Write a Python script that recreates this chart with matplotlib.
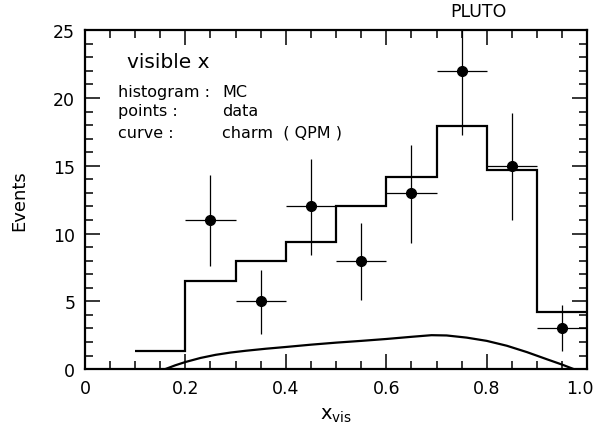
import matplotlib
matplotlib.use("Agg")
import matplotlib.pyplot as plt
import matplotlib.transforms as mtransforms
from matplotlib.ticker import MultipleLocator

# Histogram (MC)
bin_edges = [0.1, 0.2, 0.3, 0.4, 0.5, 0.6, 0.7, 0.8, 0.9, 1.0]
mc_counts = [1.3, 6.5, 8.0, 9.4, 12.0, 14.2, 17.9, 14.7, 4.2]

# Data points
data_x = [0.25, 0.35, 0.45, 0.55, 0.65, 0.75, 0.85, 0.95]
data_y = [11, 5, 12, 8, 13, 22, 15, 3]
err_up = [3.3, 2.3, 3.5, 2.8, 3.5, 4.7, 3.9, 1.7]
err_dn = [3.4, 2.4, 3.6, 2.9, 3.7, 4.7, 4.0, 1.7]
x_half = 0.05

# Charm (QPM) curve
curve_x = [0.16, 0.18, 0.20, 0.23, 0.26, 0.29, 0.32, 0.36, 0.40, 0.45, 0.50, 0.55, 0.60, 0.65,
           0.69, 0.72, 0.76, 0.80, 0.84, 0.88, 0.92, 0.95, 0.973]
curve_y = [0.0, 0.28, 0.52, 0.82, 1.05, 1.22, 1.35, 1.5, 1.63, 1.8, 1.95, 2.08, 2.22, 2.38,
           2.5, 2.48, 2.32, 2.08, 1.72, 1.25, 0.72, 0.33, 0.0]

xticks = [0, 0.2, 0.4, 0.6, 0.8, 1.0]
xticklabels = ["0", "0.2", "0.4", "0.6", "0.8", "1.0"]
yticks = [0, 5, 10, 15, 20, 25]

plt.rcParams['font.family'] = ['DejaVu Sans']

fig = plt.figure(figsize=(5.98, 4.39), dpi=100)
ax = fig.add_axes([0.142, 0.157, 0.840, 0.772])

ax.stairs(mc_counts, bin_edges, color='black', linewidth=1.6, baseline=None)
ax.errorbar(data_x, data_y, yerr=[err_dn, err_up], xerr=x_half, fmt='o', color='black',
            markersize=7, elinewidth=0.9, capsize=0, zorder=3)
ax.plot(curve_x, curve_y, color='black', linewidth=1.6)

ax.set_xlim(0, 1.0)
ax.set_ylim(0, 25)
ax.set_xticks(xticks)
ax.set_xticklabels(xticklabels)
ax.set_yticks(yticks)
ax.xaxis.set_minor_locator(MultipleLocator(0.05))
ax.yaxis.set_minor_locator(MultipleLocator(1))
ax.tick_params(which='both', direction='in', top=True, right=True, width=1.1, labelsize=12.5, pad=7)
ax.tick_params(which='major', length=11)
ax.tick_params(which='minor', length=6)
ax.tick_params(axis='y', which='both', labelright=False)
for s in ax.spines.values():
    s.set_linewidth(1.6)

# shift last x tick label slightly left so it fits in the figure
last = ax.get_xticklabels()[-1]
last.set_transform(last.get_transform() + mtransforms.ScaledTranslation(-5/72, 0, fig.dpi_scale_trans))

ax.set_xlabel(r"x$_{\mathrm{vis}}$", fontsize=14, labelpad=6)
ax.set_ylabel("Events", fontsize=13, labelpad=18)

fig.text(0.80, 0.972, "PLUTO", fontsize=12.5, ha='center', va='center')
fig.text(0.212, 0.858, "visible x", fontsize=14.5, ha='left', va='center')
rows = [("histogram :", "MC"), ("points :", "data"), ("curve :", "charm  ( QPM )")]
ys = [0.790, 0.745, 0.697]
for (a, b), y in zip(rows, ys):
    fig.text(0.197, y, a, fontsize=11.5, ha='left', va='center')
    fig.text(0.372, y, b, fontsize=11.5, ha='left', va='center')

fig.savefig("out.png", dpi=100)
